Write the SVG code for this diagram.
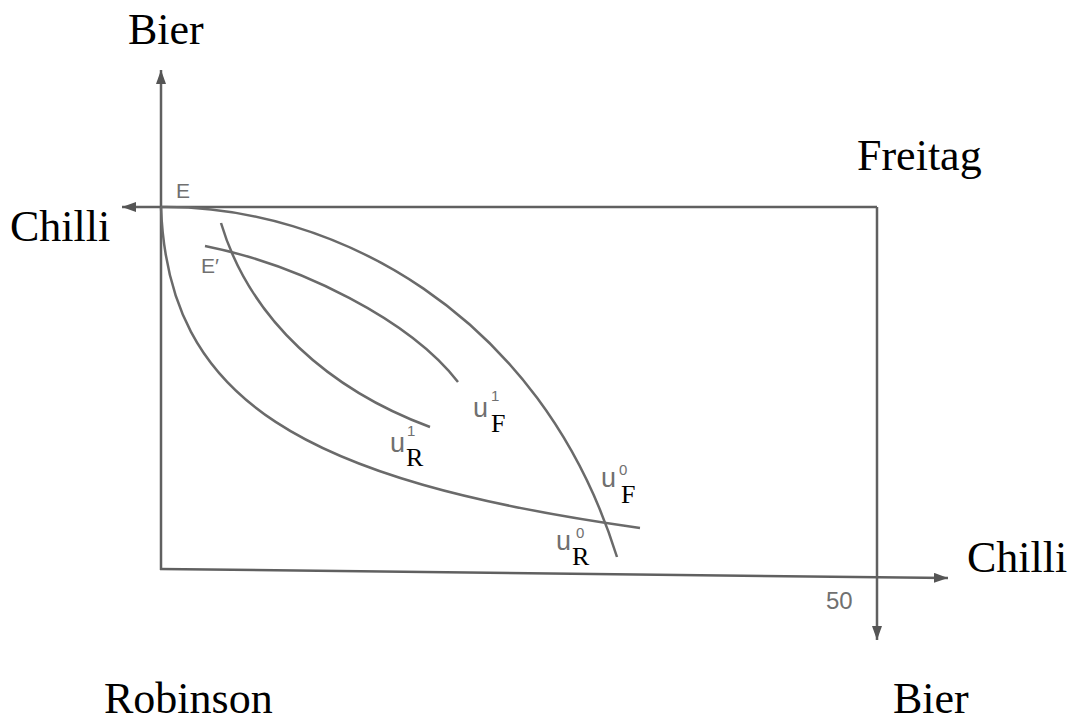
<svg xmlns="http://www.w3.org/2000/svg" width="1075" height="724" viewBox="0 0 1075 724">
<defs>
<marker id="ah" markerUnits="userSpaceOnUse" markerWidth="16" markerHeight="12" refX="14" refY="5" orient="auto">
<path d="M0,0 L14,5 L0,10 z" fill="#555"/>
</marker>
<style>
.ax{stroke:#606060;stroke-width:2.5;fill:none}
.cv{stroke:#6a6a6a;stroke-width:2.5;fill:none}
.big{font-family:"Liberation Serif",serif;font-size:44px;fill:#000}
.g{font-family:"Liberation Sans",sans-serif;fill:#707070}
.sub{font-family:"Liberation Serif",serif;font-size:26px;fill:#000}
</style>
</defs>
<rect width="1075" height="724" fill="#fff"/>
<g id="connectors">
<path class="ax" d="M161,570 L161,70" marker-end="url(#ah)"/>
<path class="ax" d="M160,569 L948,578" marker-end="url(#ah)"/>
<path class="ax" d="M877,207 L122,207" marker-end="url(#ah)"/>
<path class="ax" d="M877,207 L877,640" marker-end="url(#ah)"/>
</g>
<g id="curves">
<path id="uF0" class="cv" d="M161,207 C330,205 540,310 617,557"/>
<path id="uR0" class="cv" d="M161,207 C168,400 300,480 640,528"/>
<path id="uR1" class="cv" d="M221,223 C250,320 330,390 430,427"/>
<path id="uF1" class="cv" d="M205,246 C300,265 410,320 458,382"/>
</g>
<g id="labels">
<text class="big" x="128" y="44">Bier</text>
<text class="big" x="10" y="241">Chilli</text>
<text class="big" x="857" y="170">Freitag</text>
<text class="big" x="967" y="572">Chilli</text>
<text class="big" x="104" y="713">Robinson</text>
<text class="big" x="893" y="713">Bier</text>
<text class="g" x="176" y="198" font-size="21">E</text>
<text class="g" x="201" y="273" font-size="21">E′</text>
<text class="g" x="826" y="609" font-size="24">50</text>
<g id="lab-uR1"><text class="g" x="390" y="452" font-size="27">u</text><text class="g" x="407" y="436" font-size="15">1</text><text class="sub" x="406" y="466">R</text></g>
<g id="lab-uF1"><text class="g" x="473" y="417" font-size="27">u</text><text class="g" x="491" y="401" font-size="15">1</text><text class="sub" x="491" y="432">F</text></g>
<g id="lab-uF0"><text class="g" x="601" y="487" font-size="27">u</text><text class="g" x="619" y="475" font-size="15">0</text><text class="sub" x="621" y="503">F</text></g>
<g id="lab-uR0"><text class="g" x="556" y="550" font-size="27">u</text><text class="g" x="576" y="538" font-size="15">0</text><text class="sub" x="572" y="565">R</text></g>
</g>
</svg>
